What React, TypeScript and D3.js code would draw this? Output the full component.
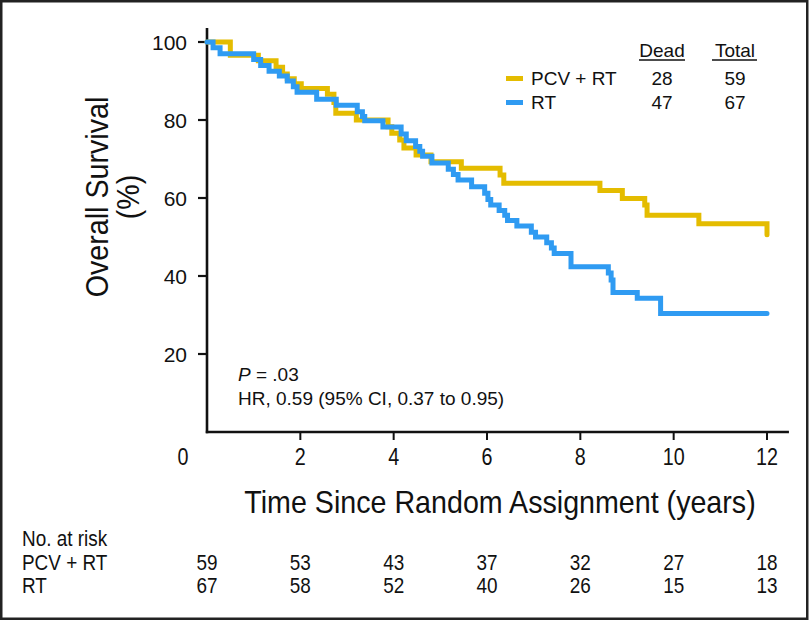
import React from 'react';
import * as d3 from 'd3';

const W = 809;
const H = 621;

const pcvTimes = [0, 0.5, 1.1, 1.48, 1.62, 1.72, 1.87, 2.02, 2.58, 2.72, 2.76, 3.2, 3.88, 3.96, 4.13, 4.22, 4.48, 4.8, 5.45, 6.28, 6.36, 8.42, 8.9, 9.38, 9.43, 10.54, 12.0];
const pcvSurv = [100, 96.6, 95.2, 93.5, 91.8, 90.6, 89.3, 88.1, 86.6, 84.5, 81.7, 80.0, 78.3, 76.6, 74.9, 72.8, 71.0, 69.3, 67.6, 65.9, 63.8, 61.9, 59.9, 58.2, 55.6, 53.4, 50.6];

const rtTimes = [0, 0.13, 0.28, 1.0, 1.15, 1.33, 1.55, 1.72, 1.85, 1.93, 2.35, 2.77, 3.22, 3.33, 3.38, 3.77, 4.16, 4.27, 4.47, 4.56, 4.62, 4.82, 5.17, 5.28, 5.38, 5.67, 5.95, 6.02, 6.08, 6.26, 6.38, 6.44, 6.64, 6.95, 7.04, 7.28, 7.38, 7.44, 7.8, 8.6, 8.66, 8.7, 9.22, 9.72, 12.0];
const rtSurv = [100, 98.5, 97.0, 95.5, 94.0, 92.5, 91.3, 90.0, 88.5, 87.1, 85.3, 83.8, 82.1, 80.9, 79.8, 78.2, 76.4, 74.7, 73.2, 72.0, 70.7, 69.0, 67.4, 66.0, 64.6, 62.9, 61.2, 59.6, 58.2, 56.8, 55.6, 54.2, 52.8, 51.2, 50.0, 48.5, 47.2, 45.8, 42.4, 40.8, 39.0, 35.8, 34.3, 30.4, 30.4];

const seriesNames = ['PCV + RT', 'RT'];
const seriesColors = ['#E4BC00', '#2F9BF2'];
const deadCounts = [28, 47];
const totalCounts = [59, 67];

const yTicks = [20, 40, 60, 80, 100];
const xTicks = [2, 4, 6, 8, 10, 12];
const riskYears = [0, 2, 4, 6, 8, 10, 12];
const atRiskPCV = [59, 53, 43, 37, 32, 27, 18];
const atRiskRT = [67, 58, 52, 40, 26, 15, 13];

const FONT = "'Liberation Sans', Arial, Helvetica, sans-serif";

function CText(props: { x: number; y: number; size: number; anchor?: string; sx?: number; rotate?: number; children: React.ReactNode; style?: any }) {
  const { x, y, size, anchor = 'start', sx = 0.88, rotate = 0, children, style } = props;
  return (
    <text
      transform={`translate(${x},${y})${rotate ? ` rotate(${rotate})` : ''} scale(${sx},1)`}
      fontSize={size}
      textAnchor={anchor as any}
      fontFamily={FONT}
      fill="#111"
      style={style}
    >
      {children}
    </text>
  );
}

export default function App() {
  const x = d3.scaleLinear().domain([0, 12]).range([207, 767]);
  const y = d3.scaleLinear().domain([0, 100]).range([432, 42]);
  const line = d3
    .line<[number, number]>()
    .x((d) => x(d[0]))
    .y((d) => y(d[1]))
    .curve(d3.curveStepAfter);

  const pcvData: [number, number][] = pcvTimes.map((t, i) => [t, pcvSurv[i]]);
  const rtData: [number, number][] = rtTimes.map((t, i) => [t, rtSurv[i]]);

  const xAxisEnd = x(12.47);
  const yAxisTop = y(103.6);

  return (
    <svg width={W} height={H} style={{ position: 'absolute', left: 0, top: 0, background: '#fff' }}>
      <rect x={0} y={0} width={W} height={H} fill="#fff" />
      <rect x={1.25} y={1.25} width={806} height={617.5} fill="none" stroke="#222" strokeWidth={2.5} />

      {/* axes */}
      <line x1={x(0)} x2={x(0)} y1={yAxisTop} y2={y(0) + 1.2} stroke="#111" strokeWidth={2.6} />
      <line x1={x(0) - 1.2} x2={xAxisEnd} y1={y(0)} y2={y(0)} stroke="#111" strokeWidth={2.6} />
      {yTicks.map((t) => (
        <g key={'yt' + t}>
          <line x1={x(0) - 9} x2={x(0)} y1={y(t)} y2={y(t)} stroke="#111" strokeWidth={2.2} />
          <text x={187} y={y(t)} dy="0.36em" textAnchor="end" fontSize={21} fontFamily={FONT} fill="#111">
            {t}
          </text>
        </g>
      ))}
      {xTicks.map((t) => (
        <g key={'xt' + t}>
          <line x1={x(t)} x2={x(t)} y1={y(0)} y2={y(0) + 8} stroke="#111" strokeWidth={2} />
          <CText x={x(t)} y={465} size={23.5} anchor="middle" sx={0.84}>
            {t}
          </CText>
        </g>
      ))}
      <CText x={183} y={465} size={23.5} anchor="middle" sx={0.84}>
        0
      </CText>

      {/* axis titles */}
      <CText x={500} y={513} size={32} anchor="middle" sx={0.895}>
        Time Since Random Assignment (years)
      </CText>
      <CText x={108} y={197} size={32} anchor="middle" sx={0.895} rotate={-90}>
        Overall Survival
      </CText>
      <CText x={139} y={197} size={32} anchor="middle" sx={0.895} rotate={-90}>
        (%)
      </CText>

      {/* curves */}
      <path d={line(pcvData) || ''} fill="none" stroke={seriesColors[0]} strokeWidth={5} strokeLinecap="round" />
      <path d={line(rtData) || ''} fill="none" stroke={seriesColors[1]} strokeWidth={5} strokeLinecap="round" />

      {/* legend */}
      <text x={662} y={56.5} textAnchor="middle" fontSize={19} fontFamily={FONT} fill="#111">Dead</text>
      <line x1={639} x2={685} y1={60} y2={60} stroke="#111" strokeWidth={1.4} />
      <text x={735} y={56.5} textAnchor="middle" fontSize={19} fontFamily={FONT} fill="#111">Total</text>
      <line x1={712} x2={757} y1={60} y2={60} stroke="#111" strokeWidth={1.4} />
      {seriesNames.map((n, i) => {
        const by = 85 + i * 24;
        return (
          <g key={n}>
            <line x1={506} x2={523} y1={by - 6.5} y2={by - 6.5} stroke={seriesColors[i]} strokeWidth={5} />
            <text x={531} y={by} fontSize={19} fontFamily={FONT} fill="#111">{n}</text>
            <text x={662} y={by} textAnchor="middle" fontSize={19} fontFamily={FONT} fill="#111">{deadCounts[i]}</text>
            <text x={735} y={by} textAnchor="middle" fontSize={19} fontFamily={FONT} fill="#111">{totalCounts[i]}</text>
          </g>
        );
      })}

      {/* stats */}
      <text x={238} y={381} fontSize={19} fontFamily={FONT} fill="#111">
        <tspan fontStyle="italic">P</tspan>
        <tspan> = .03</tspan>
      </text>
      <text x={238} y={404.5} fontSize={19} fontFamily={FONT} fill="#111">
        HR, 0.59 (95% CI, 0.37 to 0.95)
      </text>

      {/* at risk table */}
      <CText x={22} y={546} size={21.5} sx={0.88}>No. at risk</CText>
      <CText x={22} y={570} size={21.5} sx={0.88}>PCV + RT</CText>
      <CText x={22} y={593} size={21.5} sx={0.88}>RT</CText>
      {riskYears.map((t, i) => (
        <g key={'r' + t}>
          <CText x={x(t)} y={570} size={21.5} anchor="middle" sx={0.88}>{atRiskPCV[i]}</CText>
          <CText x={x(t)} y={593} size={21.5} anchor="middle" sx={0.88}>{atRiskRT[i]}</CText>
        </g>
      ))}
    </svg>
  );
}
